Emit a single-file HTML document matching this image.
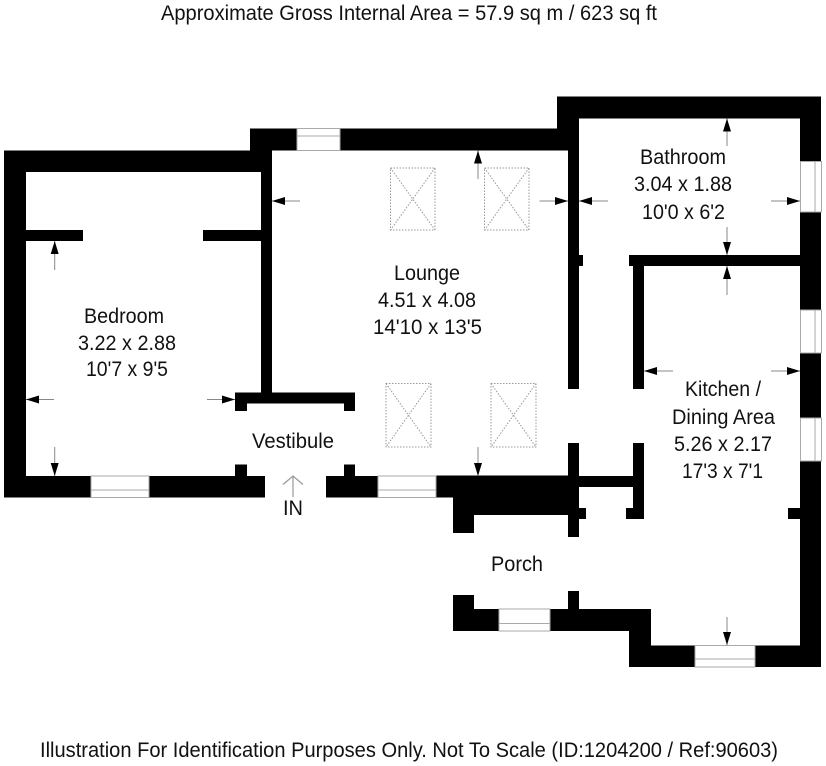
<!DOCTYPE html>
<html><head><meta charset="utf-8"><style>
html,body{margin:0;padding:0;background:#fff;width:826px;height:766px;overflow:hidden}
svg{display:block}
text{font-family:"Liberation Sans",sans-serif;font-size:21.5px;fill:#111}
</style></head><body>
<svg width="826" height="766" viewBox="0 0 826 766" xmlns="http://www.w3.org/2000/svg">
<defs>
<marker id="a" markerUnits="userSpaceOnUse" markerWidth="13" markerHeight="8" refX="13" refY="4" orient="auto"><path d="M0 0L13 4L0 8z" fill="#000"/></marker>
</defs>
<g fill="#000">
<rect x="4" y="150.5" width="268" height="21.5"/>
<rect x="4" y="150.5" width="22" height="347"/>
<rect x="250" y="128.5" width="22" height="43.5"/>
<rect x="250" y="128.5" width="47" height="22"/>
<rect x="340" y="128.5" width="239" height="22"/>
<rect x="557" y="96.5" width="264" height="22"/>
<rect x="557" y="96.5" width="22" height="54"/>
<rect x="568" y="118" width="11" height="271"/>
<rect x="579" y="255" width="4" height="11"/>
<rect x="261" y="172" width="11" height="225"/>
<rect x="26" y="230" width="57" height="11"/>
<rect x="203" y="230" width="58" height="11"/>
<rect x="235" y="392.5" width="120" height="11"/>
<rect x="235" y="392.5" width="12" height="18.5"/>
<rect x="344" y="392.5" width="11" height="18.5"/>
<rect x="4" y="476" width="87" height="21.5"/>
<rect x="149" y="476" width="116" height="21.5"/>
<rect x="235" y="464.5" width="12" height="12"/>
<rect x="326" y="476" width="52" height="21.5"/>
<rect x="344" y="464.5" width="11" height="12"/>
<rect x="436" y="475.5" width="143" height="22"/>
<rect x="453" y="475.5" width="126" height="39.5"/>
<rect x="453" y="475.5" width="21" height="57.5"/>
<rect x="568" y="443" width="11" height="94"/>
<rect x="579" y="508" width="7" height="11"/>
<rect x="578" y="476" width="56" height="11"/>
<rect x="633" y="443" width="11" height="76"/>
<rect x="626" y="508" width="8" height="11"/>
<rect x="629" y="255" width="172" height="11"/>
<rect x="633" y="255" width="11" height="134"/>
<rect x="800" y="96.5" width="21" height="65"/>
<rect x="800" y="212" width="21" height="98"/>
<rect x="800" y="353" width="21" height="65"/>
<rect x="800" y="461" width="21" height="206"/>
<rect x="788" y="508" width="13" height="11"/>
<rect x="629" y="645.5" width="66" height="21.5"/>
<rect x="755" y="645.5" width="66" height="21.5"/>
<rect x="629" y="609" width="22" height="58"/>
<rect x="550" y="609" width="101" height="22"/>
<rect x="453" y="609" width="46" height="22"/>
<rect x="453" y="595" width="21" height="36"/>
<rect x="568" y="591" width="11" height="19"/>
</g>
<g fill="#fff" stroke="#aaa" stroke-width="1">
<rect x="297" y="128.5" width="43" height="22"/><path d="M297 136H340"/>
<rect x="91" y="476" width="58" height="21.5"/><path d="M91 490H149"/>
<rect x="378" y="476" width="58" height="21.5"/><path d="M378 490H436"/>
<rect x="499" y="609" width="51" height="22"/><path d="M499 623.5H550"/>
<rect x="695" y="645.5" width="60" height="21.5"/><path d="M695 659H755"/>
<rect x="800.5" y="161.5" width="21" height="50.5"/><path d="M815 161.5V212"/>
<rect x="800.5" y="310" width="21" height="43"/><path d="M815 310V353"/>
<rect x="800.5" y="418" width="21" height="43"/><path d="M815 418V461"/>
</g>
<g fill="none" stroke="#999" stroke-width="1" stroke-dasharray="1.5 1.5">
<path d="M390.5 168H435V230H390.5zM390.5 168L435 230M435 168L390.5 230"/>
<path d="M484.5 168H529V230H484.5zM484.5 168L529 230M529 168L484.5 230"/>
<path d="M386 383.5H431V447H386zM386 383.5L431 447M431 383.5L386 447"/>
<path d="M491 383.5H536V447H491zM491 383.5L536 447M536 383.5L491 447"/>
</g>
<g stroke="#888" stroke-width="1" fill="none">
<path d="M300 201H272" marker-end="url(#a)"/>
<path d="M54.7 270V241" marker-end="url(#a)"/>
<path d="M54 399.5H26" marker-end="url(#a)"/>
<path d="M207 399.5H235" marker-end="url(#a)"/>
<path d="M54.7 447V476" marker-end="url(#a)"/>
<path d="M478 179V150.5" marker-end="url(#a)"/>
<path d="M539.5 201H568" marker-end="url(#a)"/>
<path d="M608 201H579" marker-end="url(#a)"/>
<path d="M727 146V118.5" marker-end="url(#a)"/>
<path d="M771 201H800" marker-end="url(#a)"/>
<path d="M727 227V255" marker-end="url(#a)"/>
<path d="M727 295V266" marker-end="url(#a)"/>
<path d="M673 371H644" marker-end="url(#a)"/>
<path d="M771 371H800" marker-end="url(#a)"/>
<path d="M478 447V476" marker-end="url(#a)"/>
<path d="M727 617V645" marker-end="url(#a)"/>
</g>
<path d="M293 497V476M283 484.5L293 476L303 484.5" fill="none" stroke="#999" stroke-width="1.2"/>
<text x="161" y="20" textLength="496" lengthAdjust="spacingAndGlyphs">Approximate Gross Internal Area = 57.9 sq m / 623 sq ft</text>
<text x="40" y="757" textLength="738" lengthAdjust="spacingAndGlyphs">Illustration For Identification Purposes Only. Not To Scale (ID:1204200 / Ref:90603)</text>
<text x="84" y="323" textLength="80" lengthAdjust="spacingAndGlyphs">Bedroom</text>
<text x="78" y="350" textLength="98" lengthAdjust="spacingAndGlyphs">3.22 x 2.88</text>
<text x="86" y="376" textLength="82" lengthAdjust="spacingAndGlyphs">10'7 x 9'5</text>
<text x="394" y="280" textLength="66" lengthAdjust="spacingAndGlyphs">Lounge</text>
<text x="378" y="307" textLength="98" lengthAdjust="spacingAndGlyphs">4.51 x 4.08</text>
<text x="373" y="334" textLength="109" lengthAdjust="spacingAndGlyphs">14'10 x 13'5</text>
<text x="640" y="164" textLength="86" lengthAdjust="spacingAndGlyphs">Bathroom</text>
<text x="634" y="191" textLength="98" lengthAdjust="spacingAndGlyphs">3.04 x 1.88</text>
<text x="642" y="219" textLength="83" lengthAdjust="spacingAndGlyphs">10'0 x 6'2</text>
<text x="685" y="396" textLength="76" lengthAdjust="spacingAndGlyphs">Kitchen /</text>
<text x="672" y="424" textLength="103" lengthAdjust="spacingAndGlyphs">Dining Area</text>
<text x="674" y="451" textLength="98" lengthAdjust="spacingAndGlyphs">5.26 x 2.17</text>
<text x="682" y="478" textLength="81" lengthAdjust="spacingAndGlyphs">17'3 x 7'1</text>
<text x="252" y="448" textLength="82" lengthAdjust="spacingAndGlyphs">Vestibule</text>
<text x="283" y="515" textLength="20" lengthAdjust="spacingAndGlyphs">IN</text>
<text x="491" y="571" textLength="52" lengthAdjust="spacingAndGlyphs">Porch</text>
</svg>
</body></html>
